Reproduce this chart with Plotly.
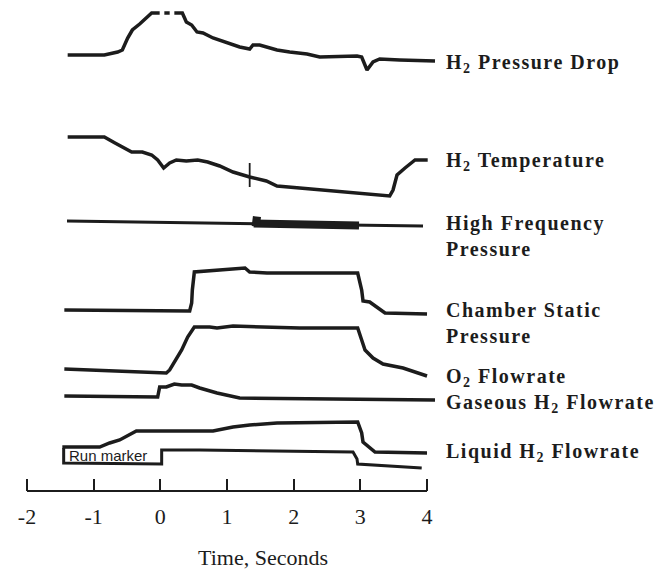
import plotly.graph_objects as go

# ---- recorded channels: time (s) and pen deflection (chart units, up = positive) ----
t_dp = [-1.39, -0.84, -0.64, -0.57, -0.49, -0.42, -0.31, -0.24, -0.13, -0.01, None,
        0.06, 0.14, None, 0.21, 0.33, 0.39, 0.47, 0.55, 0.64, 0.79, 1.00, 1.19, 1.34,
        1.39, 1.49, 1.75, 1.94, 2.20, 2.39, 2.95, 3.02, 3.10, 3.19, 3.29, 3.59, 4.12]
v_dp = [0, 0, 3, 5, 17, 25, 31, 35, 42, 42, None,
        42, 42, None, 42, 42, 33, 30, 23, 22, 17, 12, 8, 6,
        10, 10, 5, 3, 1, -2, -1, -2, -15, -7, -4, -5, -6]

t_tt = [-1.39, -0.84, -0.68, -0.43, -0.27, -0.13, -0.04, 0.05, 0.14, 0.24, 0.39, 0.56,
        0.71, 0.89, 1.09, 1.34, 1.59, 1.75, 2.09, 2.59, 3.10, 3.44, 3.49, 3.55, 3.67,
        3.82, 4.01]
v_tt = [0, 0, -6, -15, -15, -18, -23, -31, -26, -23, -24, -23,
        -25, -29, -35, -40, -44, -49, -51, -54, -57, -59, -53, -38, -31,
        -23, -23]
t_tt_mark = [1.34, 1.34]
v_tt_mark = [-26, -50]

t_hf = [-1.40, 3.94]
v_hf = [0, -5]
t_hf_band = [1.40, 2.98]
v_hf_band = [-2.5, -4.5]
t_hf_burst = [1.38, 1.50]
v_hf_burst = [0, -1]

t_cs = [-1.44, 0.44, 0.47, 0.48, 0.51, 0.85, 1.27, 1.34, 1.60, 2.96, 3.02, 3.04,
        3.14, 3.37, 4.00]
v_cs = [0, -1, 7, 20, 38, 40, 42, 38, 37, 37, 20, 9,
        8, -3, -4]

t_o2 = [-1.44, 0.09, 0.14, 0.32, 0.41, 0.51, 0.74, 0.85, 1.09, 1.60, 2.09, 2.59,
        2.96, 3.02, 3.07, 3.19, 3.34, 3.64, 4.00]
v_o2 = [0, -4, -1, 19, 32, 42, 42, 41, 43, 42, 41, 41,
        41, 29, 19, 11, 5, 1, -7]

t_gh = [-1.44, -0.04, -0.01, 0.09, 0.21, 0.32, 0.47, 0.59, 0.85, 1.19, 2.59, 4.12]
v_gh = [0, -1, 9, 9, 12, 11, 11, 8, 3, -2, -3, -4]

t_lh = [-1.47, -0.91, -0.76, -0.61, -0.36, 0.79, 1.09, 1.34, 1.75, 2.96, 3.02, 3.04,
        3.22, 4.00]
v_lh = [0, 0, 4, 7, 16, 16, 20, 22, 24, 25, 14, 5,
        -5, -6]

t_rm = [-1.45, -1.45, 0.02, 0.02, 0.59, 2.89, 2.95, 2.96, 3.92]
v_rm = [15, 0, -1, 13, 13, 11, 4, -1, -5]

tick_vals = [-2, -1, 0, 1, 2, 3, 4]
tick_text = ["-2", "-1", "0", "1", "2", "3", "4"]

labels = ["H<sub>2</sub> Pressure Drop", "H<sub>2</sub> Temperature",
          "High Frequency<br>Pressure", "Chamber Static<br>Pressure",
          "O<sub>2</sub> Flowrate", "Gaseous H<sub>2</sub> Flowrate",
          "Liquid H<sub>2</sub> Flowrate"]

# ---- strip-chart layout (vertical pen positions, px from top) ----
W, H = 657, 570
PX_PER_S = 66.67
X_LEFT_PX = 14
PLOT_W = 427
PLOT_BOTTOM = 491
x_lo = -2 - (27 - X_LEFT_PX) / PX_PER_S
x_hi = x_lo + PLOT_W / PX_PER_S

base = {"dp": 55, "tt": 137, "hf": 221, "cs": 310, "o2": 369, "gh": 396,
        "lh": 447, "rm": 463}
label_y = [63, 161, 236, 323, 377, 403, 452]
label_x = 444

INK = "#1c1c1c"


def pen(v, b):
    return [None if d is None else b - d for d in v]


def px_x(p):
    return (p - X_LEFT_PX) / PLOT_W


def px_y(p):
    return 1 - p / PLOT_BOTTOM


def spaced(txt):
    # widen the tracking of each line of a label
    return "<br>".join("<span style='letter-spacing:1.5px'>" + part + "</span>"
                       for part in txt.split("<br>"))


fig = go.Figure()


def add(t, v, key, width=3.5):
    fig.add_trace(go.Scatter(x=t, y=pen(v, base[key]), mode="lines",
                             line=dict(color=INK, width=width, shape="linear"),
                             connectgaps=False, hoverinfo="skip", showlegend=False))


add(t_dp, v_dp, "dp")
add(t_tt, v_tt, "tt")
add(t_tt_mark, v_tt_mark, "tt", width=1.8)
add(t_hf, v_hf, "hf", width=3)
add(t_hf_band, v_hf_band, "hf", width=8)
add(t_hf_burst, v_hf_burst, "hf", width=10)
add(t_cs, v_cs, "cs")
add(t_o2, v_o2, "o2")
add(t_gh, v_gh, "gh")
add(t_lh, v_lh, "lh")
add(t_rm, v_rm, "rm", width=3)

annotations = []
for txt, yy in zip(labels, label_y):
    annotations.append(dict(
        x=px_x(label_x), y=px_y(yy), xref="paper", yref="paper",
        xanchor="left", yanchor="middle", align="left", showarrow=False,
        text="<b>" + spaced(txt) + "</b>",
        font=dict(family="Liberation Serif", size=20, color=INK)))

annotations.append(dict(
    x=px_x(67), y=px_y(455), xref="paper", yref="paper", xanchor="left",
    yanchor="middle", showarrow=False, text="Run marker",
    font=dict(family="Liberation Sans", size=15, color=INK)))

annotations.append(dict(
    x=px_x(263), y=px_y(557), xref="paper", yref="paper", xanchor="center",
    yanchor="middle", showarrow=False, text="Time, Seconds",
    font=dict(family="Liberation Serif", size=22, color=INK)))

fig.update_layout(
    width=W, height=H,
    margin=dict(l=X_LEFT_PX, r=W - X_LEFT_PX - PLOT_W, t=0, b=H - PLOT_BOTTOM, pad=0),
    paper_bgcolor="white", plot_bgcolor="white",
    showlegend=False,
    annotations=annotations,
    shapes=[dict(type="line", xref="x", yref="paper", x0=-2, x1=4,
                 y0=0, y1=0, line=dict(color=INK, width=2))],
    xaxis=dict(range=[x_lo, x_hi], showgrid=False, zeroline=False, showline=False,
               tickmode="array", tickvals=tick_vals, ticktext=tick_text,
               ticks="inside", ticklen=12, tickwidth=2, tickcolor=INK,
               tickfont=dict(family="Liberation Serif", size=22, color=INK),
               ticklabelstandoff=10, fixedrange=True),
    yaxis=dict(range=[PLOT_BOTTOM, 0], visible=False, fixedrange=True),
)

fig.write_html("out.html")
